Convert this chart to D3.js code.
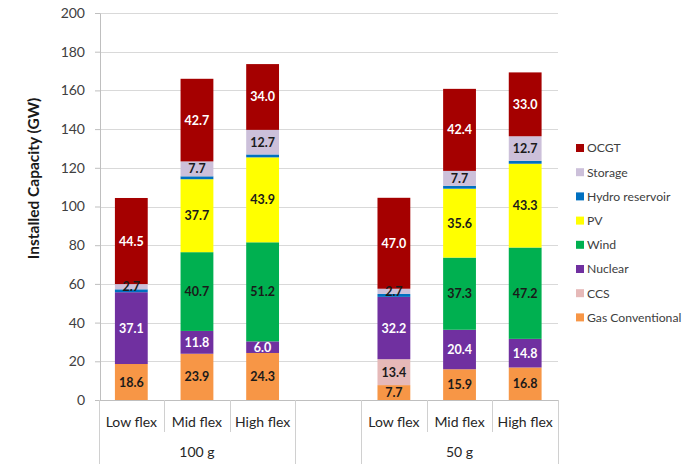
<!DOCTYPE html>
<html>
<head>
<meta charset="utf-8">
<script src="https://cdn.jsdelivr.net/npm/d3@7"></script>
<style>
  html, body { margin: 0; padding: 0; background: #fff; overflow: hidden; }
  svg { display: block; font-family: Lato, "Open Sans", sans-serif; }
</style>
</head>
<body>
<svg id="chart" width="682" height="464"></svg>
<script>
// Scenario groups and flexibility cases (the empty slot separates the two groups)
const groups = ["100 g", "", "50 g"];
const flexCases = ["Low flex", "Mid flex", "High flex"];

// Technologies in stacking order, bottom to top
const technologies = ["Gas Conventional", "CCS", "Nuclear", "Wind", "PV", "Hydro reservoir", "Storage", "OCGT"];
const techColors = ["#F79646", "#E6B9B8", "#7030A0", "#00B050", "#FFFF00", "#0070C0", "#CCC0DA", "#A50000"];
const labelColors = ["#1a1a1a", "#1a1a1a", "#ffffff", "#1a1a1a", "#1a1a1a", "#1a1a1a", "#1a1a1a", "#ffffff"];

// Installed capacity (GW) per bar, one array per technology:
// [100g Low, 100g Mid, 100g High, 50g Low, 50g Mid, 50g High]
const gasConventional = [18.6, 23.9, 24.3, 7.7, 15.9, 16.8];
const ccs             = [0, 0, 0, 13.4, 0, 0];
const nuclear         = [37.1, 11.8, 6.0, 32.2, 20.4, 14.8];
const wind            = [0, 40.7, 51.2, 0, 37.3, 47.2];
const pv              = [0, 37.7, 43.9, 0, 35.6, 43.3];
const hydroReservoir  = [1.5, 1.5, 1.5, 1.5, 1.5, 1.5];
const storage         = [2.7, 7.7, 12.7, 2.7, 7.7, 12.7];
const ocgt            = [44.5, 42.7, 34.0, 47.0, 42.4, 33.0];

// Hydro reservoir is too thin to carry a value label
const labelled = [true, true, true, true, true, false, true, true];

const yTicks = [0, 20, 40, 60, 80, 100, 120, 140, 160, 180, 200];

const seriesValues = [gasConventional, ccs, nuclear, wind, pv, hydroReservoir, storage, ocgt];

// Seven x slots: three per scenario plus an empty spacer
const slots = [];
groups.forEach((g, gi) => {
  if (g === "") slots.push({ key: "gap", group: gi, cat: "" });
  else flexCases.forEach(c => slots.push({ key: g + "|" + c, group: gi, cat: c }));
});
const barSlots = slots.filter(s => s.key !== "gap");

const rows = barSlots.map((s, i) => {
  const r = { key: s.key, cat: s.cat };
  technologies.forEach((t, ti) => r[t] = seriesValues[ti][i]);
  return r;
});

const svg = d3.select("#chart");
const plot = { left: 98.5, right: 558, top: 13, bottom: 400 };

const x = d3.scaleBand().domain(slots.map(s => s.key)).range([plot.left, plot.right]).paddingInner(0).paddingOuter(0);
const y = d3.scaleLinear().domain([0, 200]).range([plot.bottom, plot.top]);
const color = d3.scaleOrdinal().domain(technologies).range(techColors);

// Horizontal gridlines
svg.append("g")
  .selectAll("line")
  .data(yTicks.filter(t => t > 0))
  .join("line")
  .attr("x1", plot.left + 1.5).attr("x2", plot.right)
  .attr("y1", d => Math.round(y(d)) + 0.5).attr("y2", d => Math.round(y(d)) + 0.5)
  .attr("stroke", "#d9d9d9").attr("stroke-width", 1.2);

// Y axis with outward ticks
const yAxis = svg.append("g")
  .attr("transform", `translate(${plot.left + 1.5},0)`)
  .call(d3.axisLeft(y).tickValues(yTicks).tickSize(5).tickPadding(10).tickSizeOuter(0));
yAxis.select(".domain").attr("stroke", "#bfbfbf");
yAxis.selectAll(".tick line").attr("stroke", "#bfbfbf");
yAxis.selectAll(".tick text").attr("font-size", 14).attr("fill", "#404040")
  .attr("font-family", "Lato, 'Open Sans', sans-serif");

// Y axis title
svg.append("text")
  .attr("transform", `translate(39,${(y(0) + y(200)) / 2 - 28}) rotate(-90)`)
  .attr("text-anchor", "middle")
  .attr("font-size", 15.5).attr("font-weight", "bold").attr("fill", "#1a1a1a")
  .text("Installed Capacity (GW)");

// Stacked bars
const stacked = d3.stack().keys(technologies)(rows);
const barW = x.bandwidth() * 0.5;

const layers = svg.append("g").selectAll("g")
  .data(stacked)
  .join("g")
  .attr("fill", d => color(d.key));

layers.selectAll("rect")
  .data(d => d.filter(p => p[1] - p[0] > 0))
  .join("rect")
  .attr("x", p => x(p.data.key) + (x.bandwidth() - barW) / 2)
  .attr("width", barW)
  .attr("y", p => y(p[1]))
  .attr("height", p => y(p[0]) - y(p[1]));

// Value labels inside segments
stacked.forEach((layer, li) => {
  if (!labelled[li]) return;
  svg.append("g").selectAll("text")
    .data(layer.filter(p => p[1] - p[0] > 0))
    .join("text")
    .attr("x", p => x(p.data.key) + x.bandwidth() / 2)
    .attr("y", p => (y(p[0]) + y(p[1])) / 2)
    .attr("dy", "0.36em")
    .attr("text-anchor", "middle")
    .attr("font-size", 12.5).attr("font-weight", "bold")
    .attr("fill", labelColors[li])
    .text(p => d3.format(".1f")(p[1] - p[0]));
});

// X axis baseline
svg.append("line")
  .attr("x1", plot.left).attr("x2", plot.right)
  .attr("y1", plot.bottom + 0.5).attr("y2", plot.bottom + 0.5)
  .attr("stroke", "#bfbfbf");

// Category separators (short) and group separators (full height)
const edges = slots.map(s => x(s.key)).concat([plot.right]);
edges.forEach((ex, i) => {
  const leftSlot = slots[i - 1], rightSlot = slots[i];
  const isGroupEdge = !leftSlot || !rightSlot || leftSlot.group !== rightSlot.group;
  svg.append("line")
    .attr("x1", Math.round(ex) + 0.5).attr("x2", Math.round(ex) + 0.5)
    .attr("y1", plot.bottom).attr("y2", isGroupEdge ? 464 : 432)
    .attr("stroke", "#d0d0d0");
});

// Category labels
svg.append("g").selectAll("text")
  .data(barSlots)
  .join("text")
  .attr("x", s => x(s.key) + x.bandwidth() / 2)
  .attr("y", 427)
  .attr("text-anchor", "middle")
  .attr("font-size", 14).attr("fill", "#262626")
  .text(s => s.cat);

// Group labels
groups.forEach((g, gi) => {
  if (g === "") return;
  const members = slots.filter(s => s.group === gi);
  const gx0 = x(members[0].key), gx1 = x(members[members.length - 1].key) + x.bandwidth();
  svg.append("text")
    .attr("x", (gx0 + gx1) / 2)
    .attr("y", 457)
    .attr("text-anchor", "middle")
    .attr("font-size", 14).attr("fill", "#262626")
    .text(g);
});

// Legend, top of stack first
const legendItems = technologies.slice().reverse();
const legend = svg.append("g").attr("transform", "translate(576,148)");
legendItems.forEach((t, i) => {
  const row = legend.append("g").attr("transform", `translate(0,${i * 24.2})`);
  row.append("rect").attr("x", 0).attr("y", -4).attr("width", 8).attr("height", 8).attr("fill", color(t));
  row.append("text").attr("x", 11).attr("y", 0).attr("dy", "0.36em")
    .attr("font-size", 12.2).attr("fill", "#404040").text(t);
});
</script>
</body>
</html>
